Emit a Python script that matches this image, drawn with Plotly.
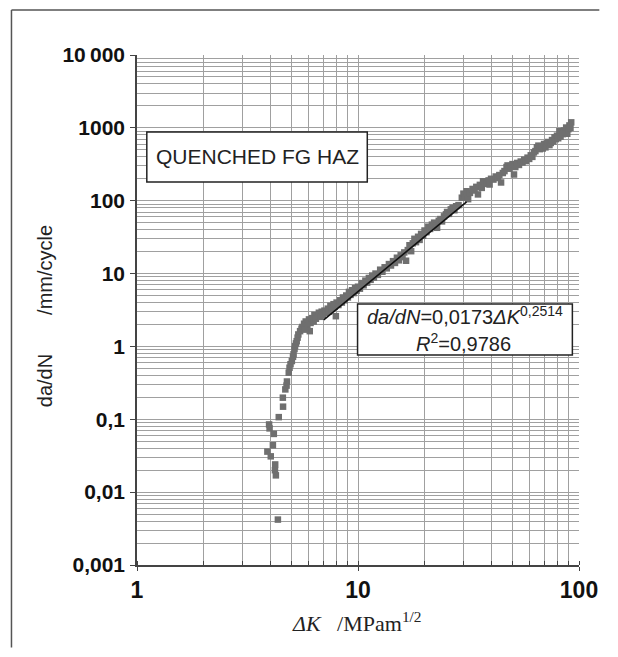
import plotly.graph_objects as go

# ---- data ----
dK = [4.34, 4.25, 4.21, 4.22, 4.03, 3.89, 4.12, 4.16, 3.96, 3.98, 4.38, 4.58, 4.57, 4.69, 4.75, 4.77,
      4.86, 4.90, 4.95, 5.02, 5.08, 5.11, 5.16, 5.19, 5.24, 5.28, 5.33, 5.37, 5.47, 5.55,
      5.6, 5.7, 5.75, 5.8, 5.9, 6.0, 6.05, 6.1, 6.2, 6.3, 6.35, 6.45, 6.55, 6.65, 6.75, 6.85, 6.95,
      7.05, 7.15, 7.3, 7.4, 7.5, 7.6, 7.75, 7.85, 7.94, 8.0, 8.15, 8.3, 8.45, 8.55, 8.7, 8.85, 9.0,
      9.1, 9.25, 9.4, 9.55, 9.7, 9.85, 10.0, 10.2, 10.4, 10.6, 10.8, 11.0, 11.2, 11.4, 11.6, 11.8,
      12.0, 12.3, 12.6, 12.9, 13.2, 13.5, 13.8, 14.1, 14.4, 14.7, 15.0, 15.3, 15.6, 15.9, 16.2, 16.5,
      16.8, 17.1, 17.4, 17.7, 18.0, 18.3, 18.7, 19.0, 19.3, 19.7, 20.0, 20.4, 20.8, 21.2, 21.6, 22.1,
      22.5, 22.8, 23.2, 23.6, 24.0, 24.5, 25.0, 25.3, 25.8, 26.3, 26.8, 27.3, 27.8, 28.5,
      29.5, 30.0, 30.5, 31.0, 31.5, 32.1, 33.0, 33.7, 34.3, 34.9, 35.6, 36.3, 36.8, 37.5, 38.2, 39.0,
      39.4, 40.0, 41.0, 42.0, 43.0, 43.6, 44.4, 45.2, 46.0, 47.0, 47.5, 48.3, 49.2, 50.0, 50.8, 51.5,
      52.5, 53.5, 54.5, 55.5, 56.5, 57.5, 58.5, 59.5, 60.5, 61.5, 62.5, 63.5, 64.5, 65.5, 66.5, 67.5,
      68.5, 69.5, 70.5, 71.5, 72.5, 73.5, 74.5, 75.5, 76.5, 77.5, 78.5, 79.5, 80.5, 81.5, 82.5, 83.5,
      84.5, 85.5, 86.5, 87.5, 88.5, 89.5, 90.5, 91.5, 92.2]
dadN = [0.0042, 0.017, 0.020, 0.024, 0.031, 0.036, 0.044, 0.063, 0.085, 0.075, 0.107, 0.149, 0.198, 0.257, 0.29, 0.33,
        0.436, 0.51, 0.57, 0.63, 0.72, 0.78, 0.92, 1.01, 1.1, 1.18, 1.32, 1.46, 1.62, 1.75,
        1.85, 2.05, 1.7, 2.2, 1.95, 2.35, 1.62, 2.1, 2.45, 2.2, 2.7, 2.4, 2.6, 2.9, 2.55, 3.0, 2.7,
        3.1, 2.9, 3.3, 3.0, 3.6, 3.3, 3.8, 3.5, 2.6, 4.0, 3.7, 4.3, 4.0, 4.7, 4.3, 5.0, 4.7,
        5.6, 5.1, 5.9, 5.4, 6.3, 5.8, 6.6, 6.2, 7.4, 6.9, 8.0, 7.5, 8.7, 8.2, 9.4, 8.8,
        10.0, 9.6, 11.3, 10.6, 12.2, 11.8, 13.5, 12.9, 14.8, 14.0, 16.5, 15.2, 17.8, 16.8, 19.5, 15.0,
        21.0, 24.5, 20.3, 26, 30, 27, 32, 29, 35, 33, 39, 37, 44, 41, 47, 50,
        46, 42.5, 53, 56, 52, 61, 65, 70, 66, 76, 80, 74, 84, 87,
        110, 125, 118, 135, 105, 128, 145, 138, 155, 122, 165, 150, 185, 175, 170, 190,
        167, 200, 195, 215, 205, 225, 178, 240, 255, 290, 305, 275, 300, 318, 229, 290,
        330, 310, 345, 335, 365, 350, 390, 375, 420, 400, 460, 480, 540, 570, 510, 560,
        520, 600, 540, 610, 640, 580, 620, 680, 650, 740, 700, 780, 720, 900, 760, 860,
        820, 920, 880, 1010, 830, 960, 1080, 1000, 1190]

# fitted power-law line endpoints (da/dN = 0,0173 dK^2.514)
fit_dK = [7.0, 31.0]
fit_dadN = [2.31, 96.5]

y_tickvals = [0.001, 0.01, 0.1, 1, 10, 100, 1000, 10000]
y_ticktext = ["0,001", "0,01", "0,1", "1", "10", "100", "1000", "10\u2009000"]
x_tickvals = [1, 10, 100]
x_ticktext = ["1", "10", "100"]

SANS = "Liberation Sans, Arial, sans-serif"
SERIF = "Liberation Serif, Times New Roman, serif"
GRID = "#a0a0a0"

fig = go.Figure()
fig.add_trace(go.Scatter(x=dK, y=dadN, mode="markers",
                         marker=dict(symbol="square", size=6.5, color="#6f6f6f", line=dict(width=0)),
                         showlegend=False, hoverinfo="skip"))
fig.add_trace(go.Scatter(x=fit_dK, y=fit_dadN, mode="lines",
                         line=dict(color="#111111", width=1.6), showlegend=False, hoverinfo="skip"))

fig.update_xaxes(type="log", range=[0, 2], tickvals=x_tickvals, ticktext=x_ticktext,
                 tickfont=dict(family=SANS, size=23, color="#111", weight="bold"),
                 showgrid=True, gridcolor=GRID, gridwidth=1,
                 minor=dict(dtick="D1", showgrid=True, gridcolor=GRID, gridwidth=1,
                            ticks="inside", ticklen=4, tickcolor="#444"),
                 ticks="outside", ticklen=4, tickcolor="#444",
                 showline=True, linecolor="#444", linewidth=1.5, zeroline=False,
                 ticklabelstandoff=0)
fig.update_yaxes(type="log", range=[-3, 4], tickvals=y_tickvals, ticktext=y_ticktext,
                 tickfont=dict(family=SANS, size=21, color="#111", weight="bold"),
                 showgrid=True, gridcolor=GRID, gridwidth=1,
                 minor=dict(dtick="D1", showgrid=True, gridcolor=GRID, gridwidth=1, ticks=""),
                 ticks="outside", ticklen=5, tickcolor="#444",
                 showline=True, linecolor="#444", linewidth=1.5, zeroline=False,
                 ticklabelstandoff=1)

shapes = [
    # outer frame: left and top edges (kept inside the figure so the page does not overflow)
    dict(type="line", xref="paper", yref="paper", x0=-0.284, x1=-0.284, y0=-0.162, y1=1.088,
         line=dict(color="#555", width=1.5), layer="below"),
    dict(type="line", xref="paper", yref="paper", x0=-0.284, x1=1.046, y0=1.088, y1=1.088,
         line=dict(color="#555", width=1.5), layer="below"),
    # label box
    dict(type="rect", xref="paper", yref="paper", x0=0.0222, x1=0.521, y0=0.751, y1=0.849,
         line=dict(color="#222", width=1.5), fillcolor="white", layer="above"),
    # equation box
    dict(type="rect", xref="paper", yref="paper", x0=0.499, x1=0.985, y0=0.412, y1=0.512,
         line=dict(color="#222", width=1.5), fillcolor="white", layer="above"),
]

annotations = [
    dict(text="QUENCHED FG HAZ", xref="paper", yref="paper", x=0.2716, y=0.80,
         showarrow=False, font=dict(family=SANS, size=21, color="#222"),
         xanchor="center", yanchor="middle"),
    dict(text="<i>da/dN</i>=0,0173<i>\u0394K</i><sup>0,2514</sup>", xref="paper", yref="paper",
         x=0.741, y=0.490, showarrow=False, font=dict(family=SANS, size=20, color="#222"),
         xanchor="center", yanchor="middle"),
    dict(text="<i>R</i><sup>2</sup>=0,9786", xref="paper", yref="paper",
         x=0.739, y=0.437, showarrow=False, font=dict(family=SANS, size=20, color="#222"),
         xanchor="center", yanchor="middle"),
    dict(text="da/dN" + "\u00a0" * 7 + "/mm/cycle", xref="paper", yref="paper",
         x=-0.208, y=0.488, showarrow=False, textangle=-90,
         font=dict(family=SANS, size=20, color="#222"), xanchor="center", yanchor="middle"),
    dict(text="<i>\u0394K</i>\u00a0\u00a0\u00a0/MPam<sup>1/2</sup>", xref="paper", yref="paper",
         x=0.497, y=-0.112, showarrow=False,
         font=dict(family=SERIF, size=22, color="#222"), xanchor="center", yanchor="middle"),
]

# page body adds an 8px margin, so the figure is sized to fit the window exactly
fig.update_layout(width=602, height=641,
                  margin=dict(l=129, r=22, t=47, b=84),
                  paper_bgcolor="white", plot_bgcolor="white",
                  shapes=shapes, annotations=annotations, showlegend=False)

fig.write_html("out.html")
